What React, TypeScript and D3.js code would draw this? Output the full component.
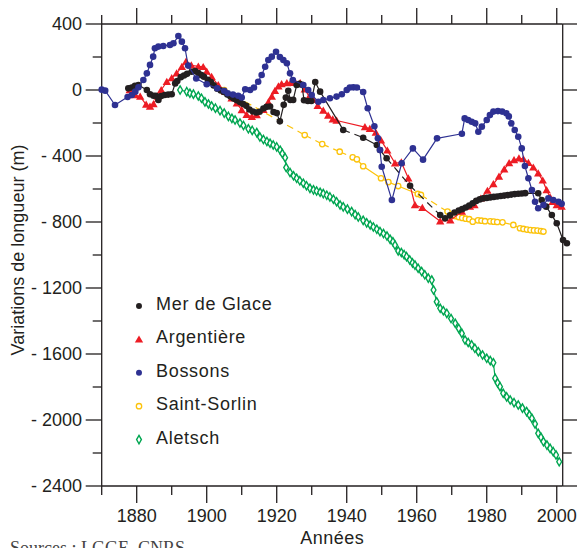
import React from "react";
import * as d3 from "d3";

type Pt = [number, number];

// Variations de longueur (m) par année
const merDeGlace: Pt[] = [
  [1877.6, 10], [1878.6, 15], [1879.5, 25], [1880.5, 30], [1882.9, 0], [1883.8, -26], [1884.8, -35],
  [1885.5, -35], [1886.2, -61], [1887, -36], [1888, -30], [1889, -28], [1890, -26], [1891, 40],
  [1891.6, 55], [1892.6, 78], [1893.5, 88], [1894.4, 98], [1895.7, 111], [1896.7, 115], [1897.6, 103],
  [1898.5, 90], [1899.2, 80], [1900.3, 62], [1901.2, 48], [1902, 28], [1903, 8], [1904, -3],
  [1904.9, -12], [1905.9, -28], [1906.8, -40], [1907.7, -52], [1908.6, -62], [1909.5, -72],
  [1910.4, -85], [1911.3, -96], [1912.2, -118], [1913.2, -130], [1914.2, -136], [1915.1, -132],
  [1916.2, -112], [1917.1, -102], [1918.1, -100], [1919.1, -133], [1920, -140], [1920.9, -190],
  [1922, -90], [1922.6, -46], [1923.3, -5], [1923.9, -61], [1924.7, -60], [1925.7, 30], [1926.5, 37],
  [1927.2, 32], [1927.8, -62], [1928.9, -67], [1929.9, -67], [1931, 48], [1932.4, -10], [1939, -242],
  [1944.7, -289], [1948.6, -333], [1949.5, -364], [1951.4, -414], [1958.1, -580], [1966.7, -758],
  [1968.1, -778], [1969.5, -760], [1970.8, -742], [1972, -730], [1973, -722], [1974, -712], [1975, -700],
  [1976, -686], [1977, -672], [1978, -663], [1979, -657], [1980, -654], [1981, -651], [1982, -648],
  [1983, -645], [1984, -642], [1985, -640], [1986, -637], [1987, -634], [1988, -631], [1989, -629],
  [1990, -627], [1991, -625], [1994.7, -626], [1995.7, -667], [1997, -707], [1998.6, -758],
  [2000, -808], [2001.8, -909], [2002.9, -929],
];

const argentiere: Pt[] = [
  [1878, 0], [1879.5, -30], [1881, -40], [1882.7, -88], [1883.8, -100], [1884.8, -85], [1886, -40],
  [1887, 0], [1888.6, 50], [1890, 72], [1891.4, 101], [1892.9, 141], [1894.1, 172], [1895.6, 150],
  [1897.6, 143], [1899, 140], [1900, 112], [1901.4, 80], [1903.3, 30], [1905.2, -10], [1907.1, -50],
  [1908.6, -81], [1910, -121], [1911.4, -150], [1912.9, -162], [1914.3, -152], [1916.2, -120],
  [1917.6, -75], [1918.6, -40], [1919.5, -5], [1920.5, 22], [1921.4, 36], [1922.9, 42], [1924, 44],
  [1925.3, 46], [1926.7, 42], [1928, 5], [1929.3, -40], [1930.5, -60], [1931.7, -95], [1933.3, -125],
  [1934.7, -155], [1936, -178], [1937.1, -185], [1945.2, -225], [1946.6, -235], [1948.3, -258],
  [1949.8, -305], [1951.6, -366], [1953.8, -444], [1955.6, -438], [1957.6, -535], [1959.5, -697],
  [1961.6, -714], [1966.7, -795], [1969.6, -790], [1972.9, -737], [1975.2, -707], [1976.5, -697],
  [1978.3, -657], [1980.2, -610], [1981.9, -570], [1983.5, -525], [1985, -480], [1986.4, -443],
  [1987.8, -424], [1989.2, -414], [1990.5, -419], [1991.9, -441], [1993.3, -469], [1994.7, -505],
  [1996, -548], [1997.1, -606], [1998.1, -650], [1998.8, -678], [2000, -697], [2001.4, -707],
];

const bossons: Pt[] = [
  [1870, 2], [1871, -4], [1873.8, -91], [1877.4, -42], [1878.6, -30], [1879.6, -10], [1880.5, 16],
  [1881.9, 61], [1882.9, 101], [1883.8, 152], [1884.7, 202], [1885.2, 253], [1886.2, 263],
  [1887.6, 267], [1889.5, 273], [1890.5, 283], [1891.9, 327], [1892.9, 293], [1893.8, 253],
  [1894.7, 148], [1897, 70], [1900, 35], [1903, 10], [1905, -5], [1906, -20], [1907.5, -28],
  [1909, -35], [1910, -45], [1911, 5], [1912.4, 0], [1913.5, 15], [1914.7, 50], [1915.7, 91],
  [1916.7, 141], [1917.6, 182], [1918.6, 202], [1919.8, 232], [1920.9, 200], [1921.9, 182],
  [1922.9, 162], [1923.8, 101], [1924.6, 61], [1927.6, 30], [1929, 0], [1930, -30], [1931.9, -71],
  [1933.3, -61], [1935.2, -50], [1937.1, -40], [1938.6, -26], [1940, 0], [1940.9, 15], [1941.9, 16],
  [1942.9, 15], [1944.7, -12], [1946, -111], [1947.9, -220], [1948.9, -293], [1949.5, -364],
  [1950, -465], [1952.9, -667], [1955.7, -444], [1958.9, -354], [1961.8, -422], [1965.8, -293],
  [1972.9, -265], [1973.7, -172], [1974.7, -182], [1975.7, -192], [1976.7, -202], [1977.6, -253],
  [1978.6, -222], [1980, -182], [1980.9, -152], [1981.9, -131], [1983.2, -128], [1984.4, -131],
  [1985.6, -141], [1986.3, -160], [1987, -202], [1988, -242], [1989, -283], [1990, -354],
  [1990.9, -461], [1991.9, -535], [1992.9, -606], [1993.8, -677], [1994.7, -717], [1996.2, -697],
  [1997.6, -657], [1999, -667], [2000.5, -677], [2001.4, -690],
];

const saintSorlin: Pt[] = [
  [1905, 0], [1928, -273], [1933, -328], [1938, -374], [1941.7, -408], [1942.9, -420], [1944.7, -462],
  [1949.8, -535], [1951.9, -558], [1954.7, -582], [1960.3, -630], [1961.2, -636], [1968.8, -737],
  [1970, -755], [1971, -764], [1972, -770], [1973, -775], [1974, -780], [1975, -783], [1976, -798],
  [1977.5, -790], [1978.5, -792], [1979.5, -795], [1981, -796], [1982, -798], [1983, -800],
  [1984.5, -802], [1987.6, -818], [1989.5, -838], [1990.5, -842], [1991.5, -846], [1992.5, -849],
  [1993.5, -851], [1994.5, -852], [1995.5, -855], [1996.2, -858],
];

const aletsch: Pt[] = [
  [1892.4, 0], [1894.3, -10], [1895.2, -20], [1896.2, -25], [1897.6, -36], [1898.5, -50], [1899.5, -72],
  [1900.5, -85], [1901.4, -97], [1902.5, -110], [1903.8, -125], [1905, -140], [1906.2, -160],
  [1907.2, -172], [1908.1, -182], [1909.5, -200], [1910.5, -215], [1911.9, -235], [1913, -245],
  [1914.3, -258], [1915.2, -285], [1916.2, -300], [1917.2, -312], [1918.1, -323], [1919, -333],
  [1920, -345], [1921, -365], [1921.6, -385], [1922.4, -410], [1922.7, -470], [1923.8, -500],
  [1924.8, -520], [1925.7, -535], [1926.6, -550], [1927.6, -565], [1928.5, -580], [1929.5, -596],
  [1930.5, -605], [1931.4, -612], [1932.4, -620], [1933.3, -628], [1934.3, -638], [1935.2, -648],
  [1936.2, -662], [1937.1, -677], [1938.1, -697], [1939, -708], [1940.2, -722], [1941.4, -737],
  [1942.4, -755], [1943.3, -770], [1944.7, -790], [1945.7, -805], [1946.7, -818], [1947.6, -830],
  [1948.6, -844], [1949.5, -858], [1950.5, -870], [1951.5, -885], [1952.4, -905], [1953.2, -920],
  [1953.8, -940], [1954.7, -975], [1955.6, -985], [1956.4, -998], [1957.1, -1010], [1958, -1030],
  [1958.8, -1048], [1959.5, -1061], [1960.4, -1080], [1961.4, -1100], [1962.3, -1120], [1963.3, -1140],
  [1964.3, -1152], [1964.8, -1212], [1965.7, -1283], [1966.7, -1323], [1967.6, -1338], [1968.6, -1354],
  [1969.8, -1385], [1971, -1414], [1972, -1445], [1972.9, -1475], [1973.8, -1515], [1974.7, -1530],
  [1975.7, -1545], [1976.6, -1565], [1977.6, -1586], [1978.8, -1606], [1980, -1626], [1981, -1640],
  [1981.9, -1653], [1982.4, -1747], [1983.1, -1775], [1983.8, -1798], [1984.7, -1838], [1985.7, -1860],
  [1986.7, -1879], [1987.8, -1895], [1989, -1909], [1990.2, -1928], [1991.4, -1949], [1992.2, -1970],
  [1992.9, -1990], [1993.8, -2024], [1994.7, -2081], [1995.5, -2105], [1996.2, -2131], [1997.2, -2152],
  [1998.1, -2172], [1999, -2192], [1999.8, -2212], [2000.7, -2253],
];

// segments drawn dashed (start year of the segment)
const merDeGlaceDashed = [1939, 1951.4, 1958.1];
const saintSorlinDashed = [1905, 1928, 1933, 1938, 1961.2];

const xTicks = d3.range(1870, 2001, 10);
const yTicks = d3.range(-2400, 401, 200);

const W = 577;
const H = 548;
const LEFT = 101.7;
const RIGHT = 562.7;
const TOP = 24;
const BOTTOM = 486;
const INK = "#231f20";
const SANS = "'Liberation Sans', Arial, sans-serif";

const x = d3.scaleLinear().domain([1870, 2001.7]).range([LEFT, RIGHT]);
const y = d3.scaleLinear().domain([-2400, 400]).range([BOTTOM, TOP]);
const line = d3.line<Pt>().x(d => x(d[0])).y(d => y(d[1]));

type Marker = "dot" | "triangle" | "ring" | "diamond";

interface Series {
  name: string;
  data: Pt[];
  color: string;
  marker: Marker;
  dashed: number[];
}

const series: Series[] = [
  { name: "Aletsch", data: aletsch, color: "#00a651", marker: "diamond", dashed: [] },
  { name: "Saint-Sorlin", data: saintSorlin, color: "#fcc30b", marker: "ring", dashed: saintSorlinDashed },
  { name: "Argentière", data: argentiere, color: "#ed1c24", marker: "triangle", dashed: [] },
  { name: "Mer de Glace", data: merDeGlace, color: INK, marker: "dot", dashed: merDeGlaceDashed },
  { name: "Bossons", data: bossons, color: "#2e3192", marker: "dot", dashed: [] },
];

const legendOrder = ["Mer de Glace", "Argentière", "Bossons", "Saint-Sorlin", "Aletsch"];

const triPath = d3.symbol(d3.symbolTriangle, 30)() as string;
const diaPath = d3.symbol(d3.symbolDiamond, 20)() as string;

function MarkerShape({ kind, color, cx, cy, size = 1 }: { kind: Marker; color: string; cx: number; cy: number; size?: number }) {
  if (kind === "dot") return <circle cx={cx} cy={cy} r={3.3 * size} fill={color} />;
  if (kind === "ring")
    return <circle cx={cx} cy={cy} r={2.7 * size} fill="#fff" stroke={color} strokeWidth={1.3} />;
  if (kind === "triangle")
    return <path d={triPath} transform={`translate(${cx},${cy + 0.8}) scale(${size})`} fill={color} />;
  return (
    <path d={diaPath} transform={`translate(${cx},${cy}) scale(${size})`} fill="#fff" stroke={color} strokeWidth={1.4} />
  );
}

function SeriesPaths({ s }: { s: Series }) {
  let solid = "";
  let dashed = "";
  for (let i = 0; i < s.data.length - 1; i++) {
    const seg = line([s.data[i], s.data[i + 1]]) || "";
    if (s.dashed.includes(s.data[i][0])) dashed += seg;
    else solid += seg;
  }
  return (
    <g>
      <path d={solid} fill="none" stroke={s.color} strokeWidth={1.2} />
      {dashed && <path d={dashed} fill="none" stroke={s.color} strokeWidth={1.2} strokeDasharray="7,5" />}
      {s.data.map((d, i) => (
        <MarkerShape key={i} kind={s.marker} color={s.color} cx={x(d[0])} cy={y(d[1])} />
      ))}
    </g>
  );
}

const fmtY = (v: number) => (v === 0 ? "0" : v < 0 ? `- ${Math.abs(v)}` : `${v}`);

export default function App() {
  return (
    <svg
      width={W}
      height={H}
      style={{ position: "absolute", left: 0, top: 0, background: "#fff" }}
      fontFamily={SANS}
    >
      <rect width={W} height={H} fill="#fff" />

      {/* axes frame */}
      <g stroke={INK} strokeWidth={1.3} fill="none">
        <line x1={LEFT} x2={RIGHT} y1={TOP} y2={TOP} />
        <line x1={LEFT} x2={RIGHT} y1={BOTTOM} y2={BOTTOM} />
        <line x1={LEFT} x2={LEFT} y1={TOP} y2={BOTTOM} />
        <line x1={RIGHT} x2={RIGHT} y1={TOP} y2={BOTTOM} />
        {xTicks.map(t => {
          const major = t % 20 === 0;
          return (
            <g key={t}>
              <line x1={x(t)} x2={x(t)} y1={TOP} y2={TOP - (major ? 16 : 9)} />
              <line x1={x(t)} x2={x(t)} y1={BOTTOM} y2={BOTTOM + (major ? 17 : 9)} />
            </g>
          );
        })}
        {yTicks.map(t => {
          const major = t % 400 === 0;
          return (
            <g key={t}>
              <line x1={LEFT} x2={LEFT - (major ? 16 : 9)} y1={y(t)} y2={y(t)} />
              <line x1={RIGHT} x2={RIGHT + (major ? 16 : 9)} y1={y(t)} y2={y(t)} />
            </g>
          );
        })}
      </g>

      {/* tick labels */}
      <g fill={INK} fontSize={18}>
        {xTicks.filter(t => t % 20 === 0).map(t => (
          <text key={t} x={x(t)} y={522} textAnchor="middle">
            {t}
          </text>
        ))}
        {yTicks.filter(t => t % 400 === 0).map(t => (
          <text key={t} x={82} y={y(t)} dy="0.35em" textAnchor="end">
            {fmtY(t)}
          </text>
        ))}
      </g>

      {/* axis titles */}
      <text x={(LEFT + RIGHT) / 2} y={544} textAnchor="middle" fontSize={18} letterSpacing={0.5} fill={INK}>
        Années
      </text>
      <text
        transform={`translate(24,${(TOP + BOTTOM) / 2 - 5}) rotate(-90)`}
        textAnchor="middle"
        fontSize={18}
        fill={INK}
      >
        Variations de longueur (m)
      </text>

      {/* series */}
      {series.map(s => (
        <SeriesPaths key={s.name} s={s} />
      ))}

      {/* legend */}
      <g>
        {legendOrder.map((name, i) => {
          const s = series.find(d => d.name === name)!;
          const base = 310 + i * 33.4;
          return (
            <g key={name}>
              <MarkerShape kind={s.marker} color={s.color} cx={139} cy={base - 4} size={s.marker === "dot" ? 0.9 : 1} />
              <text x={156} y={base} fontSize={18} letterSpacing={0.7} fill={INK}>
                {name}
              </text>
            </g>
          );
        })}
      </g>

      {/* source (partly cut at the bottom edge, as in the original) */}
      <text x={10} y={554} fontFamily="'Liberation Serif', 'Times New Roman', serif" fontSize={18} fill="#444">
        Sources : LGGE, CNRS
      </text>
    </svg>
  );
}
